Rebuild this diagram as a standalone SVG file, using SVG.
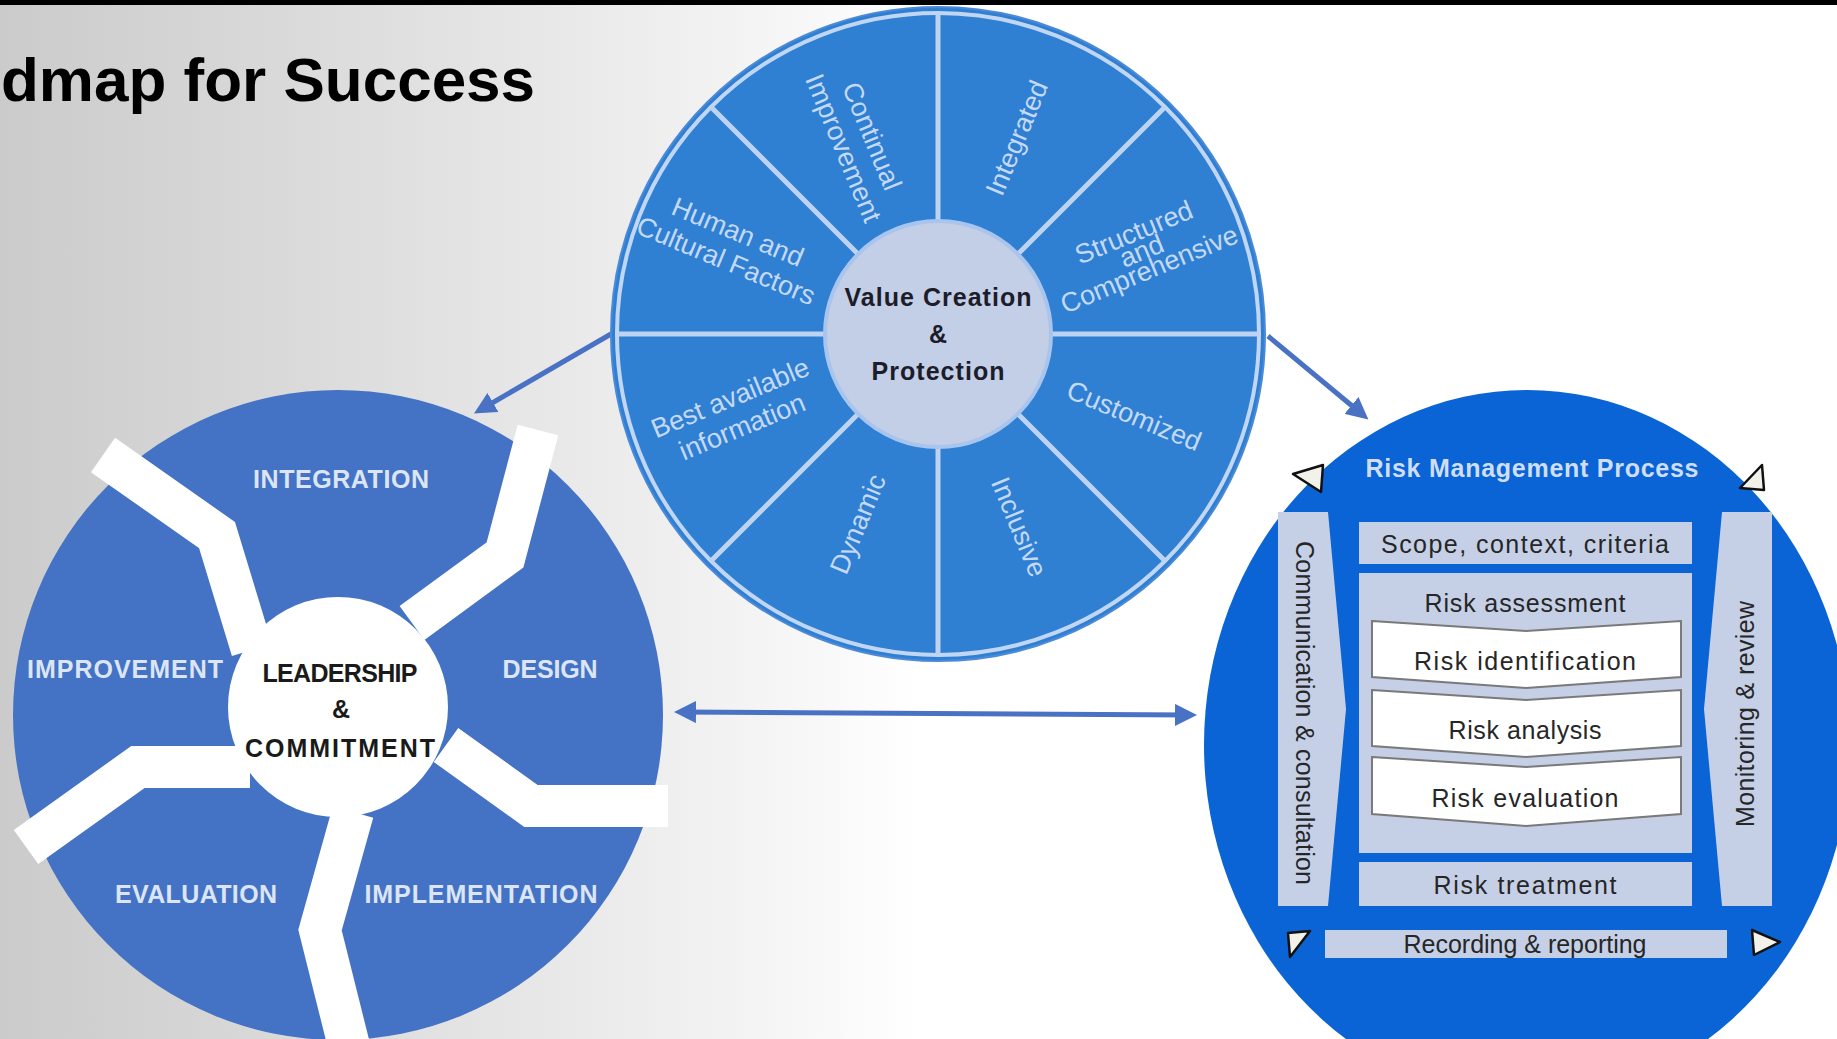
<svg xmlns="http://www.w3.org/2000/svg" width="1837" height="1039" viewBox="0 0 1837 1039">
<defs>
<linearGradient id="bg" x1="0" y1="0" x2="1837" y2="0" gradientUnits="userSpaceOnUse">
<stop offset="0" stop-color="#cbcbcb"/>
<stop offset="0.15" stop-color="#d9d9d9"/>
<stop offset="0.3" stop-color="#e8e8e8"/>
<stop offset="0.42" stop-color="#f5f5f5"/>
<stop offset="0.5" stop-color="#ffffff"/>
</linearGradient>
<marker id="ah" markerUnits="userSpaceOnUse" markerWidth="24" markerHeight="22" refX="15" refY="11" orient="auto-start-reverse" viewBox="0 0 24 22">
<path d="M0,0 L22,11 L0,22 z" fill="#4a72c4"/>
</marker>
<style>
.t{font-family:"Liberation Sans",Arial,sans-serif}
.title{font-weight:bold;font-size:62px;fill:#000}
.lc{font-weight:bold;font-size:25px;fill:#dce5f4;text-anchor:middle}
.lcc{font-weight:bold;font-size:25px;fill:#1a1a1a;text-anchor:middle}
.band{fill:none;stroke:#ffffff;stroke-width:42;stroke-linejoin:miter;stroke-linecap:butt}
.wl{font-size:27px;fill:#c4d9f5;text-anchor:middle}
.spoke{stroke:#bdd3f1;stroke-width:5}
.wc{font-weight:bold;font-size:25px;fill:#1c1c2a;text-anchor:middle}
.conn{stroke:#4a72c4;stroke-width:5;fill:none}
.box{fill:#c5d0e6}
.bt{font-size:25px;fill:#262626;text-anchor:middle}
.wbox{fill:#ffffff;stroke:#7a7a7a;stroke-width:2}
.tri{fill:#f2f2ea;stroke:#111;stroke-width:2.5;stroke-linejoin:round}
</style>
</defs>
<rect x="0" y="0" width="1837" height="1039" fill="url(#bg)"/>
<rect x="0" y="0" width="1837" height="5" fill="#000"/>
<text class="t title" x="1" y="101">dmap for Success</text>

<g id="connectors">
<line class="conn" x1="611" y1="334" x2="480" y2="410" marker-end="url(#ah)"/>
<line class="conn" x1="1268" y1="336" x2="1363" y2="415" marker-end="url(#ah)"/>
<line class="conn" x1="681" y1="712" x2="1190" y2="715" marker-start="url(#ah)" marker-end="url(#ah)"/>
</g>

<g id="leadership">
<circle cx="338" cy="715" r="325" fill="#4472c4"/>
<polyline class="band" points="103,455 217,535 252,650"/>
<polyline class="band" points="538,430 505,555 412,623"/>
<polyline class="band" points="446,745 531,806 668,806"/>
<polyline class="band" points="353,812 320,930 350,1050"/>
<polyline class="band" points="250,767 138,767 26,847"/>
<circle cx="338" cy="707" r="110" fill="#ffffff"/>
<text class="t lc" x="341" y="488" textLength="176">INTEGRATION</text>
<text class="t lc" x="550" y="678" textLength="95">DESIGN</text>
<text class="t lc" x="125" y="678" textLength="196">IMPROVEMENT</text>
<text class="t lc" x="196" y="903" textLength="162">EVALUATION</text>
<text class="t lc" x="481" y="903" textLength="233">IMPLEMENTATION</text>
<text class="t lcc" x="340" y="682" textLength="155">LEADERSHIP</text>
<text class="t lcc" x="341" y="718">&amp;</text>
<text class="t lcc" x="340" y="757" textLength="190">COMMITMENT</text>
</g>

<g id="principles">
<circle cx="938" cy="334" r="327" fill="#2f7fd3" stroke="#4a8ad8" stroke-width="2"/>
<circle cx="938" cy="334" r="321" fill="none" stroke="#c0d6f3" stroke-width="4"/>
<line class="spoke" x1="1051" y1="334" x2="1259" y2="334"/>
<line class="spoke" x1="825" y1="334" x2="617" y2="334"/>
<line class="spoke" x1="938" y1="221" x2="938" y2="13"/>
<line class="spoke" x1="938" y1="447" x2="938" y2="655"/>
<line class="spoke" x1="1018" y1="254" x2="1165" y2="107"/>
<line class="spoke" x1="858" y1="254" x2="711" y2="107"/>
<line class="spoke" x1="1018" y1="414" x2="1165" y2="561"/>
<line class="spoke" x1="858" y1="414" x2="711" y2="561"/>
<circle cx="938" cy="334" r="113" fill="#c3cfe6" stroke="#a9c5ee" stroke-width="4"/>
<text class="t wc" x="938" y="306" textLength="187">Value Creation</text>
<text class="t wc" x="938" y="343">&amp;</text>
<text class="t wc" x="938" y="380" textLength="133">Protection</text>
<g transform="translate(858,142) rotate(67.5)"><text class="t wl" y="-6">Continual</text><text class="t wl" y="25">Improvement</text></g>
<g transform="translate(1017,138) rotate(-67.5)"><text class="t wl" y="9">Integrated</text></g>
<g transform="translate(1142,252) rotate(-22.5)"><text class="t wl" y="-12">Structured</text><text class="t wl" y="8">and</text><text class="t wl" y="28">Comprehensive</text></g>
<g transform="translate(1134,416) rotate(22.5)"><text class="t wl" y="9">Customized</text></g>
<g transform="translate(1019,527) rotate(67.5)"><text class="t wl" y="9">Inclusive</text></g>
<g transform="translate(858,524) rotate(-67.5)"><text class="t wl" y="9">Dynamic</text></g>
<g transform="translate(736,412) rotate(-22.5)"><text class="t wl" y="-6">Best available</text><text class="t wl" y="25">information</text></g>
<g transform="translate(732,246) rotate(22.5)"><text class="t wl" y="-6">Human and</text><text class="t wl" y="25">Cultural Factors</text></g>
</g>

<g id="process">
<ellipse cx="1527" cy="745" rx="323" ry="355" fill="#0a64d6"/>
<text class="t" x="1532" y="477" text-anchor="middle" font-weight="bold" font-size="25" fill="#d0def5" textLength="333">Risk Management Process</text>
<polygon class="box" points="1278,512 1328,512 1346,709 1328,906 1278,906"/>
<polygon class="box" points="1772,512 1722,512 1704,709 1722,906 1772,906"/>
<text class="t bt" transform="translate(1304,713) rotate(90)" y="8" font-size="22" textLength="344">Communication &amp; consultation</text>
<text class="t bt" transform="translate(1746,714) rotate(-90)" y="8" font-size="22" textLength="226">Monitoring &amp; review</text>
<rect class="box" x="1359" y="522" width="333" height="42"/>
<text class="t bt" x="1525" y="553" textLength="288">Scope, context, criteria</text>
<rect class="box" x="1359" y="573" width="333" height="280"/>
<text class="t bt" x="1525" y="612" textLength="201">Risk assessment</text>
<polygon class="wbox" points="1372,621 1526,631 1681,621 1681,677 1526,688 1372,677"/>
<text class="t bt" x="1525" y="670" textLength="222">Risk identification</text>
<polygon class="wbox" points="1372,690 1526,700 1681,690 1681,746 1526,757 1372,746"/>
<text class="t bt" x="1525" y="739" textLength="153">Risk analysis</text>
<polygon class="wbox" points="1372,757 1526,767 1681,757 1681,814 1526,826 1372,814"/>
<text class="t bt" x="1525" y="807" textLength="187">Risk evaluation</text>
<rect class="box" x="1359" y="862" width="333" height="44"/>
<text class="t bt" x="1525" y="894" textLength="183">Risk treatment</text>
<rect class="box" x="1325" y="930" width="402" height="28"/>
<text class="t bt" x="1525" y="953" font-size="21" textLength="243">Recording &amp; reporting</text>
<polygon class="tri" points="1293,474 1323,465 1321,492"/>
<polygon class="tri" points="1740,488 1762,465 1764,490"/>
<polygon class="tri" points="1288,933 1310,931 1290,957"/>
<polygon class="tri" points="1752,930 1780,942 1754,955"/>
</g>
</svg>
